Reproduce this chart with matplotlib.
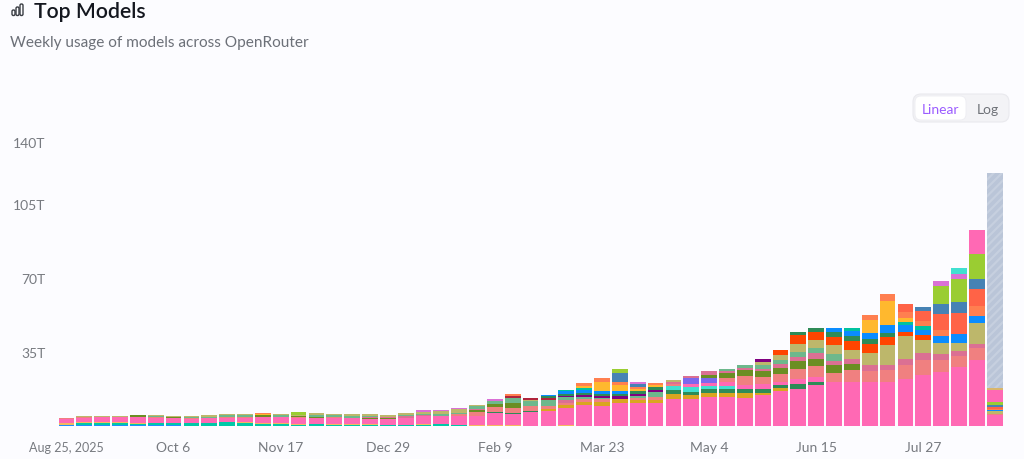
import numpy as np
import matplotlib
matplotlib.use('Agg')
import matplotlib.pyplot as plt
from matplotlib.patches import FancyBboxPatch
from matplotlib.transforms import ScaledTranslation

plt.rcParams['font.family'] = ['Lato', 'DejaVu Sans']
plt.rcParams['hatch.linewidth'] = 1.6

BG = '#FCFCFF'
W, H = 1024, 460

x_labels = ['Aug 25, 2025', 'Oct 6', 'Nov 17', 'Dec 29', 'Feb 9', 'Mar 23', 'May 4', 'Jun 15', 'Jul 27']
y_ticks = [35, 70, 105, 140]
y_labels = ['35T', '70T', '105T', '140T']
n_weeks = 53

# values in trillions, bottom of the stack first, missing tail weeks are zero
blue_low = [.7, .6, .6, .6, .6, .6, .3, .2, .2, .2, .2]
teal_low = [0, .8, .8, .9, .5, .7, 1.1, 1.0, 1.2, 1.5, 1.3, 1.0, 1.0, .6, .9, .6, .5, .4, .4, .4, .4, .8, .7]
gold_low = [.9, .3, .3, .3, .4, .2, .2, .2, .2, .2, .3, .4, .5, .3, .2, .5, .5, .4, .3, .2, .5, 0, 0, .5, .5, .3, 0, 0, .4]
pink_main = [1.8, 2.3, 2.4, 2.4, 2.6, 2.4, 2.2, 2.1, 2.3, 2.1,
             2.2, 2.7, 2.6, 3.1, 2.8, 2.9, 2.8, 2.5, 2.6, 3.2,
             3.6, 3.8, 4.2, 4.3, 5.8, 5.2, 6.6, 7.1, 8.3, 9.9,
             9.5, 11, 11, 10.7, 12.6, 12.6, 13.9, 13.9, 13.4, 14.5,
             16.6, 17.7, 19.2, 18.6, 20.8, 20.8, 20.8, 22.4, 24.1, 25.4,
             27.9, 31.4, 5.2]
goldenrod = [0] * 27 + [1.0, 1.3, 1.6, 2.0, 1.7, 1.4, 1.7, 2.6, 2.0, 1.9, 1.9, 2.0, .9, 1.4]
seagreen_low = [0] * 24 + [.5, .5, .4] + [0] * 7 + [1.7, 1.6, 1.9, 1.6, 1.9, 2.2, 1.6, 2.2, 1.6]
turquoise = [0] * 34 + [2.2, 2.2, 1.3, 1.3]
pink_mid = [0] * 35 + [1.6, 1.3, 1.9, 1.9, 2.4, 1.3, 2.5, 2.5, 2.2]
lightcoral = [.2, .2, .2, .2, .2, .2, .2, .1, .1, .1,
              .2, .2, .1, .2, .1, .2, .2, .1, .1, .1,
              .1, .1, .6, 1.6, 2.2, 2.7, 2.4, 1.4, 1.1, 1.1,
              1.1, 0, .9, 1.4, .8, 0, 0, 1.9, 4.5, 3.0,
              3.8, 4.4, 5.0, 4.4, 5.5, 5.4, 5.7, 6.6, 7.3, 6.0,
              5.0, 5.5, .3]
slate_purple = [0] * 35 + [2.8, 2.5]
olive = [0, 0, 0, 0, .9, 0, .3, 0, 0, 0,
         0, .9, 0, .5, .3, 0, 0, .5, .3, 0,
         0, 0, 0, 1.3, 1.2, 2.4, 0, 0, 0, 0,
         0, 0, 0, 0, 0, 0, 1.3, 2.8, 2.8, 2.8,
         2.7, 3.9, 3.5, 3.6, 3.2]
violet_red = [0] * 17 + [.4, .5, .9, .4, 0, 0, .3, 0, 0, 0, 0, 1.1, 0,
                         0, 0, 0, 0, .8, .8, 1.7, .8, 1.1, 1.3,
                         2, 2, 2.5, 2, 2.2, 2.5, 2.5, 2.8, 3, 2.5,
                         2.5, 1.7, .3]
sea_mid = [0, 0, 0, 0, 0, .6, 0, .6, .4, .9,
           1.1, 0, .9, 0, .9, .8, .9, .5, 0, .6,
           .9, .8, .8, 1.3, 1.7, 2.2, 2.4, 2.7, 1.3, 1.3,
           .8, 0, .9, 2.2, 0, 0, 0, .8, 1.3, 1.7,
           1.9, 2.5, 2.5, 3.3]
khaki = [0, .4, .4, .5, 0, .5, .6, .5, .7, .5,
         .5, 0, .4, .5, .9, .8, .9, .7, .9, .9,
         .8, 1.5, 1.6, .5, 0, 0, .6, 0, 0, 0,
         0, 0, 0, 0, 1.1, 0, 0, 0, 0, 1.4,
         2.2, 3.5, 4.1, 4.4, 4.4, 6, 9.1, 10.6, 6.5, 5.4,
         3.9, 10, 1.3]
crimson = [0] * 25 + [1.1, 1.0, 1.0]
dark_purple = [0] * 28 + [.6, .8, .8, 1.3, 1.1, .9, 0, 0, 0, 0, 0, 1.3]
orange_red = [0] * 40 + [2.5, 4.3, 3.6, 3.8, 4.3, 4.3, 4.1, 2, 2]
sea_high = [0] * 27 + [1.0, 1.0, 1.1, .8, 1.1, 1.4, 1.4] + [0] * 7 + [1.4, 1.7, 2.2, 2, 2, 1.9]
dodger = [0] * 27 + [.6, 1.3, 1.1, 1.4, 1.3] + [0] * 11 + [1.9, 2.5, 3.2, 3.6, 3.3, 2.5, 3.5, 4.3, 3.3, .5]
teal_high = [0] * 28 + [.6, .9] + [0] * 14 + [1.6, 0, 0, 1.7, 1.9]
amber = [0] * 11 + [.4] + [0] * 17 + [1.1, 4.6, 3, 1.0, 1.3] + [0] * 11 + [6.1, 11.5, 1.9]
coral = [0] * 11 + [.4, .3] + [0] * 12 + [.5, 0, 0, 0, 1.3, 1.7, 1.3, .7, .8] + [0] * 11 + [2, 3.2, 2.5, 2.5, 2.4, 0, 5, .5]
tomato = [0] * 47 + [3.8, 4.7, 8, 9.9, 7.9, .7]
steel = [0] * 31 + [4.6, 1.6] + [0] * 15 + [2, 4.4, 5.2, 4.9, 1]
lime = [0] * 13 + [1.4] + [0] * 17 + [1.6] + [0] * 17 + [8.8, 11, 11.5, 1.7]
orchid = [0] * 20 + [.9, .4, .5, 0, 1.1] + [0] * 7 + [.8] + [0] * 16 + [2.2, 2.4]
aqua_top = [0] * 50 + [2.7]
pink_top = [0] * 51 + [11.5, 5.5]
khaki_top = [0] * 52 + [.8]
projected = [0] * 52 + [102]

series = [
    (blue_low, '#1E90FF'), (teal_low, '#00C9A7'), (gold_low, '#F4B860'), (pink_main, '#FF69B4'),
    (goldenrod, '#DAA520'), (seagreen_low, '#2E8B57'), (turquoise, '#40E0D0'), (pink_mid, '#FF69B4'),
    (lightcoral, '#F08080'), (slate_purple, '#7B68EE'), (olive, '#6B8E23'), (violet_red, '#DB7093'),
    (sea_mid, '#6DB88C'), (khaki, '#BDB76B'), (crimson, '#B0243C'), (dark_purple, '#800080'),
    (orange_red, '#FF4500'), (sea_high, '#2E8B57'), (dodger, '#0A8CFF'), (teal_high, '#00C2A0'),
    (amber, '#FFB82E'), (coral, '#FF7F50'), (tomato, '#FF6347'), (steel, '#4682B4'),
    (lime, '#9ACD32'), (orchid, '#DA70D6'), (aqua_top, '#40E0D0'), (pink_top, '#FF69B4'),
    (khaki_top, '#D9B66B'),
]

fig = plt.figure(figsize=(W / 100, H / 100), dpi=100, facecolor=BG)

# chart area: week 0 sits at x=66.5 and weeks are 17.85 px apart, 0 at y=427, 140T at y=131
left_px, right_px = 50, 1010
ax = fig.add_axes([left_px / W, (H - 427) / H, (right_px - left_px) / W, 296 / H], facecolor=BG)
weeks = np.arange(n_weeks)
bottom = np.zeros(n_weeks)
for values, color in series:
    heights = np.zeros(n_weeks)
    heights[:len(values)] = values
    ax.bar(weeks, heights, width=0.88, bottom=bottom, color=color, linewidth=0)
    bottom += heights

heights = np.zeros(n_weeks)
heights[:len(projected)] = projected
ax.bar(weeks, heights, width=0.88, bottom=bottom, facecolor='#BAC5D8', edgecolor='#C6CFDF',
       hatch='////', linewidth=0)

ax.set_xlim((left_px - 66.5) / 17.85, (right_px - 66.5) / 17.85)
ax.set_ylim(0, 140)
ax.set_xticks(weeks[::6])
ax.set_xticklabels(x_labels)
ax.set_yticks(y_ticks)
ax.set_yticklabels(y_labels)
ax.tick_params(axis='x', length=0, pad=11, labelsize=10, labelcolor='#777A80')
ax.tick_params(axis='y', length=0, pad=3.4, labelsize=10, labelcolor='#777A80')
ax.get_xticklabels()[0].set_fontsize(9)
# top label hangs below its tick, the way the original clamps it inside the chart
top_label = ax.get_yticklabels()[-1]
top_label.set_va('top')
top_label.set_transform(top_label.get_transform() + ScaledTranslation(0, -5 / 72, fig.dpi_scale_trans))
for side in ax.spines.values():
    side.set_visible(False)

# header and the scale toggle, in pixel coordinates
top = fig.add_axes([0, 0, 1, 1])
top.set_xlim(0, W)
top.set_ylim(H, 0)
top.axis('off')
top.text(34, 11.5, 'Top Models', fontsize=15.3, fontweight='semibold', color='#14171F', va='center')
top.text(10, 43, 'Weekly usage of models across OpenRouter', fontsize=11.1, color='#6C7078', va='center')

for bar_x, bar_top in [(12, 11), (16, 8), (20, 5)]:
    top.add_patch(FancyBboxPatch((bar_x, bar_top), 3, 16.5 - bar_top, boxstyle='round,pad=0,rounding_size=1.4',
                                 facecolor='none', edgecolor='#3A3D44', linewidth=1.0))

top.add_patch(FancyBboxPatch((913, 95), 96, 28, boxstyle='round,pad=0,rounding_size=8',
                             facecolor='#F3F3F6', edgecolor='#E9E9EE', linewidth=0.8))
top.add_patch(FancyBboxPatch((915, 97), 51, 24, boxstyle='round,pad=0,rounding_size=6',
                             facecolor='#FFFFFF', edgecolor='#ECECF2', linewidth=0.6))
top.text(940.5, 110, 'Linear', fontsize=10, color='#9B5CFF', ha='center', va='center')
top.text(987.5, 110, 'Log', fontsize=10, color='#6F7278', ha='center', va='center')

fig.savefig('out.png', dpi=100, facecolor=BG)
